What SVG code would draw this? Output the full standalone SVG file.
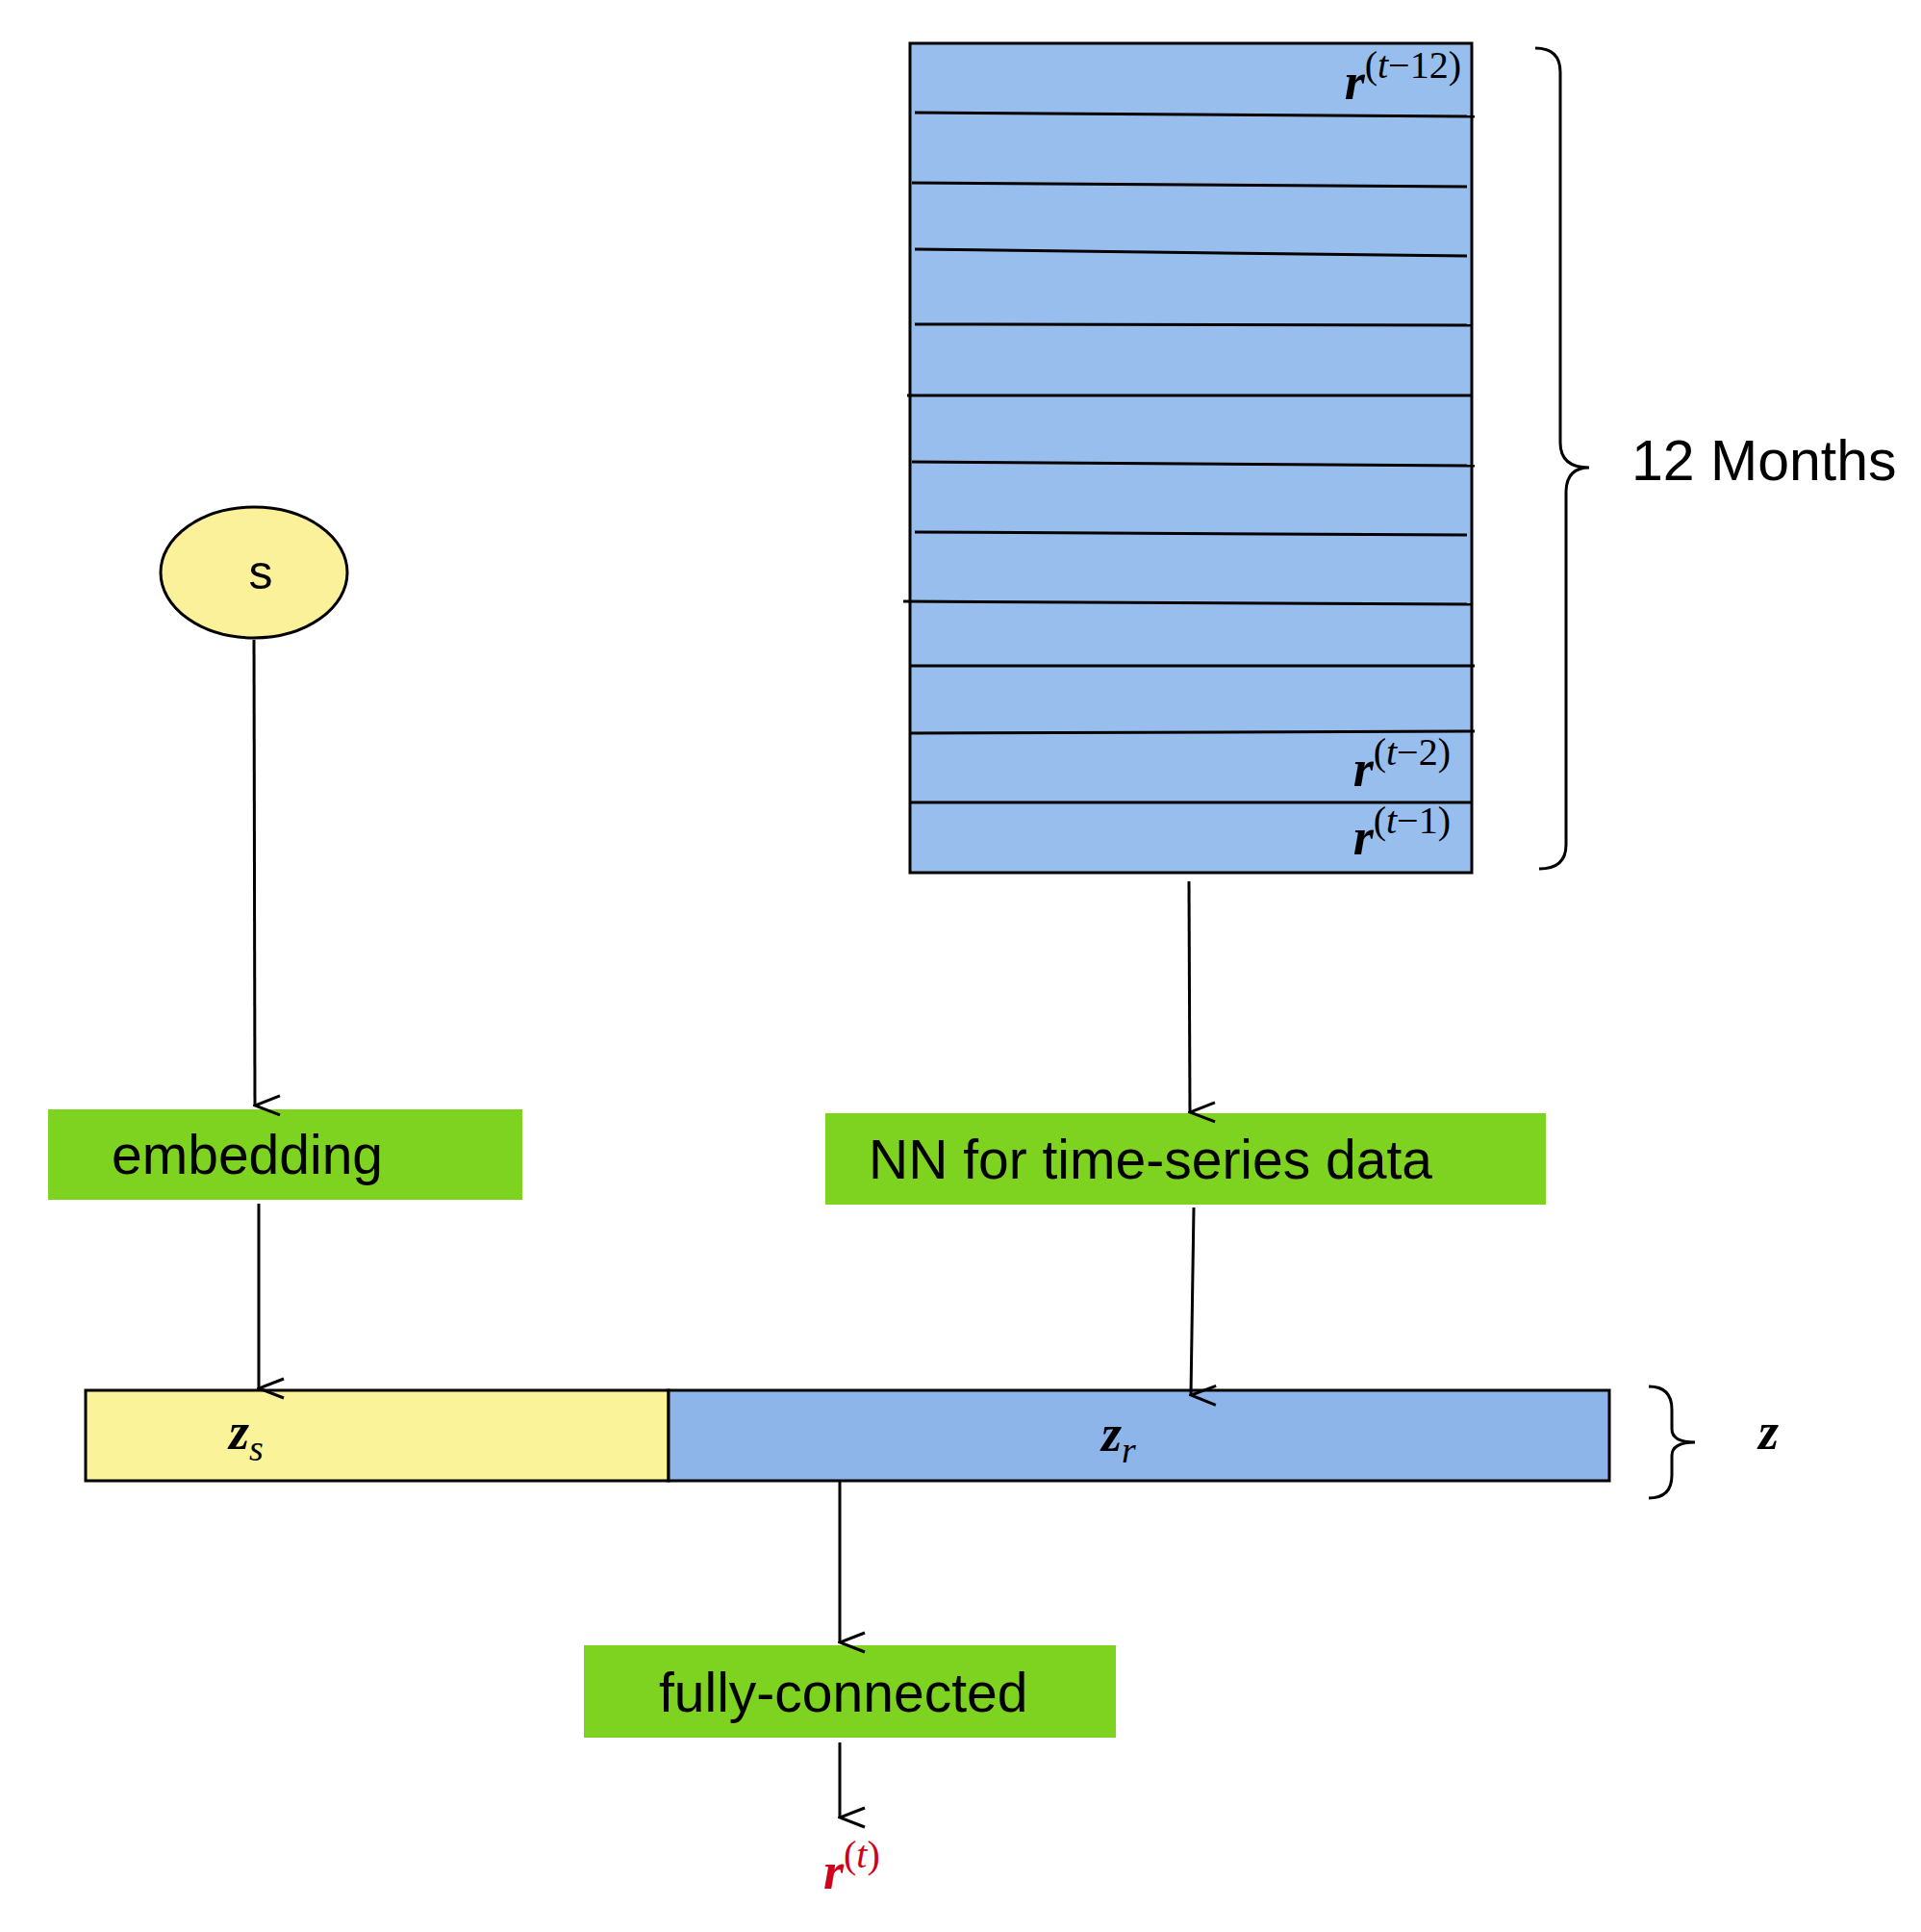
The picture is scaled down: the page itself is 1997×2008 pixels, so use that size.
<svg xmlns="http://www.w3.org/2000/svg" width="1997" height="2008" viewBox="0 0 1997 2008">
<style>
.ln{stroke:#000;stroke-width:3;fill:none}
.sans{font-family:"Liberation Sans",Arial,sans-serif;fill:#000}
.m{font-family:"Liberation Serif","Times New Roman",serif;font-style:italic}
.mb{font-family:"Liberation Serif","Times New Roman",serif;font-style:italic;font-weight:bold}
.up{font-family:"Liberation Serif","Times New Roman",serif;font-style:normal;font-weight:normal}
.green{fill:#7ED321}
</style>
<defs>
<marker id="ah" markerWidth="24" markerHeight="30" refX="12" refY="28" orient="auto-start-reverse" markerUnits="userSpaceOnUse" viewBox="0 0 24 30">
<path d="M2,2 L12,28 L22,2" fill="none" stroke="#000" stroke-width="3"/>
</marker>
</defs>
<rect width="1997" height="2008" fill="#fff"/>
<g id="sequence">
<rect x="946" y="45" width="584" height="862" fill="#97BEEC" stroke="#000" stroke-width="3"/>
<g class="ln">
<line x1="951" y1="117" x2="1533" y2="121"/>
<line x1="948" y1="190" x2="1525" y2="194"/>
<line x1="951" y1="259" x2="1525" y2="266"/>
<line x1="951" y1="337" x2="1530" y2="338"/>
<line x1="943" y1="411" x2="1530" y2="411"/>
<line x1="948" y1="480" x2="1533" y2="484"/>
<line x1="951" y1="553" x2="1525" y2="556"/>
<line x1="939" y1="625" x2="1530" y2="628"/>
<line x1="946" y1="692" x2="1533" y2="692"/>
<line x1="946" y1="762" x2="1533" y2="760"/>
<line x1="946" y1="834" x2="1530" y2="834"/>
</g>
<text x="1519" y="103" text-anchor="end" font-size="54"><tspan class="mb">r</tspan><tspan class="up" font-size="40" dy="-22">(</tspan><tspan class="m" font-size="40">t</tspan><tspan class="up" font-size="40">−12)</tspan></text>
<text x="1508" y="817" text-anchor="end" font-size="54"><tspan class="mb">r</tspan><tspan class="up" font-size="40" dy="-22">(</tspan><tspan class="m" font-size="40">t</tspan><tspan class="up" font-size="40">−2)</tspan></text>
<text x="1508" y="888" text-anchor="end" font-size="54"><tspan class="mb">r</tspan><tspan class="up" font-size="40" dy="-22">(</tspan><tspan class="m" font-size="40">t</tspan><tspan class="up" font-size="40">−1)</tspan></text>
</g>
<g id="brace12">
<path class="ln" d="M1596,50 Q1622,50 1622,75 L1622,460 Q1622,486 1652,486 Q1628,486 1628,512 L1628,878 Q1628,903 1600,903"/>
<text class="sans" x="1696" y="499" font-size="59">12 Months</text>
</g>
<g id="s">
<ellipse cx="264" cy="595" rx="97" ry="68" fill="#FAF19A" stroke="#000" stroke-width="3"/>
<text class="sans" x="271" y="612" font-size="50" text-anchor="middle">s</text>
</g>
<g id="embedding">
<rect class="green" x="50" y="1153" width="493" height="94"/>
<text class="sans" x="116" y="1220" font-size="57">embedding</text>
</g>
<g id="nn">
<rect class="green" x="858" y="1157" width="749" height="95"/>
<text class="sans" x="903" y="1225" font-size="57">NN for time-series data</text>
</g>
<g id="zbar">
<rect x="89" y="1445" width="606" height="94" fill="#FAF39A" stroke="#000" stroke-width="3"/>
<rect x="695" y="1445" width="978" height="94" fill="#8DB5EA" stroke="#000" stroke-width="3"/>
<text x="238" y="1506" font-size="54"><tspan class="mb">z</tspan><tspan class="m" font-size="38" dy="12">s</tspan></text>
<text x="1145" y="1508" font-size="54"><tspan class="mb">z</tspan><tspan class="m" font-size="38" dy="12">r</tspan></text>
</g>
<g id="zbrace">
<path class="ln" d="M1714,1441 Q1738,1441 1738,1465 L1738,1485 Q1738,1499 1762,1499 Q1738,1499 1738,1513 L1738,1533 Q1738,1557 1714,1557"/>
<text class="mb" x="1828" y="1506" font-size="54">z</text>
</g>
<g id="fc">
<rect class="green" x="607" y="1710" width="553" height="96"/>
<text class="sans" x="685" y="1779" font-size="57">fully-connected</text>
</g>
<g id="out">
<text x="856" y="1963" font-size="54" fill="#D0021B"><tspan class="mb">r</tspan><tspan class="up" font-size="40" dy="-22">(</tspan><tspan class="m" font-size="40">t</tspan><tspan class="up" font-size="40">)</tspan></text>
</g>
<g id="connectors" class="ln">
<line x1="264" y1="665" x2="265" y2="1149" marker-end="url(#ah)"/>
<line x1="1236" y1="916" x2="1237" y2="1156" marker-end="url(#ah)"/>
<line x1="269" y1="1251" x2="269" y2="1443" marker-end="url(#ah)"/>
<line x1="1241" y1="1255" x2="1238" y2="1450" marker-end="url(#ah)"/>
<line x1="873" y1="1539" x2="873" y2="1707" marker-end="url(#ah)"/>
<line x1="873" y1="1811" x2="873" y2="1889" marker-end="url(#ah)"/>
</g>
</svg>
